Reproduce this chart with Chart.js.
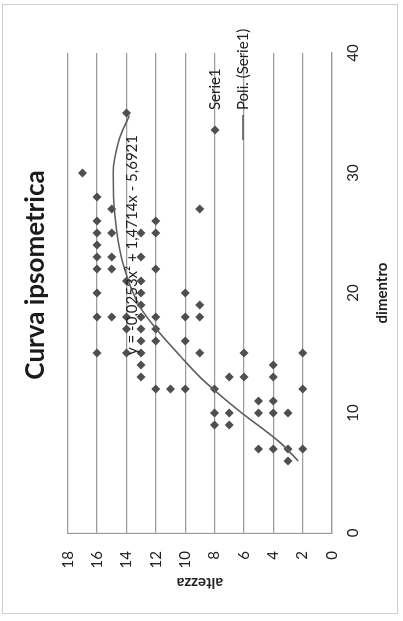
<!DOCTYPE html>
<html>
<head>
  <title>Curva ipsometrica</title>
  <script src="https://cdn.jsdelivr.net/npm/chart.js"></script>
  <style>
    body { margin: 0; background: #fff; overflow: hidden; }
    #paper { position: absolute; left: 2px; top: 4px; width: 396px; height: 610px; border: 1px solid #cfcfcf; box-sizing: border-box; }
    /* the scanned sheet is turned a quarter turn, so the chart is drawn landscape and rotated */
    #frame { position: absolute; left: 0; top: 0; width: 621px; height: 403px; transform-origin: 0 0; transform: translate(0, 621px) rotate(-90deg); }
  </style>
</head>
<body>
  <div id="paper"></div>
  <div id="frame"><canvas id="ipso-chart" width="621" height="403"></canvas></div>
  <script>
    var chartTitle = 'Curva ipsometrica';
    var xTitle = 'dimentro';
    var yTitle = 'altezza';
    var equation = 'y = -0,0253x\u00b2 + 1,4714x - 5,6921';
    var equationAt = [24, 13.6];

    // Serie1: diametro / altezza
    var diametro = [30,
      28, 26, 25, 24, 23, 22, 20, 18, 15,
      27, 25, 23, 22, 18,
      35, 21, 18, 17, 15,
      25, 23, 21, 20, 19, 18, 17, 16, 15, 14, 13,
      26, 25, 22, 18, 17, 16, 12,
      12,
      20, 18, 16, 12,
      27, 19, 18, 15,
      12, 10, 9,
      13, 10, 9,
      15, 13,
      11, 10, 7,
      14, 13, 11, 10, 7,
      10, 7, 6,
      15, 12, 7];
    var altezza = [17,
      16, 16, 16, 16, 16, 16, 16, 16, 16,
      15, 15, 15, 15, 15,
      14, 14, 14, 14, 14,
      13, 13, 13, 13, 13, 13, 13, 13, 13, 13, 13,
      12, 12, 12, 12, 12, 12, 12,
      11,
      10, 10, 10, 10,
      9, 9, 9, 9,
      8, 8, 8,
      7, 7, 7,
      6, 6,
      5, 5, 5,
      4, 4, 4, 4, 4,
      3, 3, 3,
      2, 2, 2];

    // Poli. (Serie1): points picked along the drawn trend curve
    var trendD = [6, 7.5, 10.25, 12, 13, 14.7, 16.9, 18.9, 22.75, 26.6, 30, 32.75, 34.8];
    var trendA = [2.3, 3.5, 6.4, 8.1, 9.0, 10.3, 11.9, 13.1, 14.3, 14.8, 14.9, 14.5, 13.8];

    var legendLabels = ['Serie1', 'Poli. (Serie1)'];

    var serie = diametro.map(function(d, i) { return {x: d, y: altezza[i]}; });
    var trend = trendD.map(function(d, i) { return {x: d, y: trendA[i]}; });

    var markColor = '#4f4f4f';
    var lineColor = '#5e5e5e';
    var textColor = '#222';
    var gridColor = '#9c9c9c';
    var fontFamily = 'Lato, "Liberation Sans", sans-serif';

    function diamond(ctx, cx, cy, r) {
      ctx.beginPath();
      ctx.moveTo(cx, cy - r);
      ctx.lineTo(cx + r, cy);
      ctx.lineTo(cx, cy + r);
      ctx.lineTo(cx - r, cy);
      ctx.closePath();
      ctx.fill();
    }

    // title, trend equation and legend, placed as in the Excel sheet
    var extras = {
      id: 'extras',
      afterDraw: function(chart) {
        var ctx = chart.ctx;
        var x = chart.scales.x, y = chart.scales.y;
        ctx.save();
        ctx.fillStyle = '#1a1a1a';
        ctx.textAlign = 'center';
        ctx.textBaseline = 'middle';
        ctx.font = 'bold 26px ' + fontFamily;
        ctx.fillText(chartTitle, 346, 36);

        ctx.fillStyle = textColor;
        ctx.font = '15px ' + fontFamily;
        ctx.fillText(equation, x.getPixelForValue(equationAt[0]), y.getPixelForValue(equationAt[1]));

        ctx.textAlign = 'left';
        ctx.fillStyle = markColor;
        diamond(ctx, 491, 215, 4.5);
        ctx.strokeStyle = lineColor;
        ctx.lineWidth = 1.6;
        ctx.beginPath();
        ctx.moveTo(481, 243);
        ctx.lineTo(506, 243);
        ctx.stroke();
        ctx.fillStyle = textColor;
        ctx.fillText(legendLabels[0], 511, 215);
        ctx.fillText(legendLabels[1], 511, 243);
        ctx.restore();
      }
    };

    var ctx = document.getElementById('ipso-chart').getContext('2d');
    var chart = new Chart(ctx, {
      type: 'scatter',
      data: {
        datasets: [{
          label: legendLabels[0],
          data: serie,
          pointStyle: 'rectRot',
          pointRadius: 4.5,
          pointBackgroundColor: markColor,
          pointBorderColor: markColor,
          pointBorderWidth: 0,
          showLine: false,
          order: 2
        }, {
          label: legendLabels[1],
          data: trend,
          showLine: true,
          pointRadius: 0,
          borderColor: lineColor,
          borderWidth: 1.6,
          cubicInterpolationMode: 'monotone',
          fill: false,
          order: 1
        }]
      },
      options: {
        responsive: false,
        animation: false,
        layout: { padding: { top: 67.7, right: 53, left: 0, bottom: 0 } },
        plugins: {
          legend: { display: false },
          title: { display: false },
          tooltip: { enabled: false }
        },
        scales: {
          x: {
            type: 'linear',
            position: 'bottom',
            min: 0,
            max: 40,
            ticks: { stepSize: 10, padding: 12, color: textColor, font: { family: fontFamily, size: 15 } },
            grid: { display: false, drawTicks: false },
            border: { display: true, color: gridColor, width: 1.2 },
            title: { display: true, text: xTitle, color: textColor, font: { family: fontFamily, size: 15, weight: 'bold' }, padding: { top: 0, bottom: 12 } },
            afterFit: function(scale) { scale.height = 71; }
          },
          y: {
            min: 0,
            max: 18,
            ticks: { stepSize: 2, padding: 18, color: textColor, font: { family: fontFamily, size: 15 } },
            grid: { color: gridColor, lineWidth: 1.2, drawTicks: false },
            border: { display: true, color: gridColor, width: 1.2 },
            title: { display: true, text: yTitle, color: textColor, font: { family: fontFamily, size: 15, weight: 'bold' }, padding: { top: 29, bottom: 0 } },
            afterFit: function(scale) { scale.width = 88; }
          }
        }
      },
      plugins: [extras]
    });
  </script>
</body>
</html>
